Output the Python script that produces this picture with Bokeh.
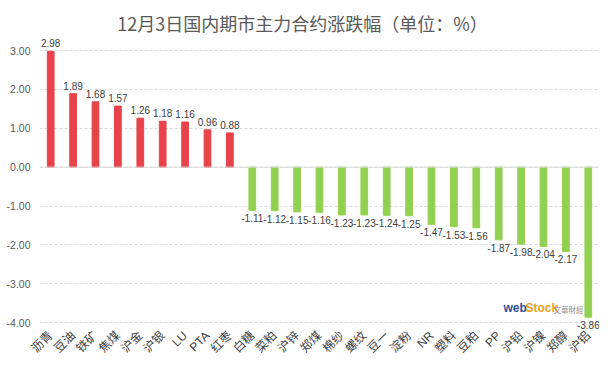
import math
from bokeh.plotting import figure
from bokeh.models import ColumnDataSource, FixedTicker, NumeralTickFormatter, Range1d, Span, Label
from bokeh.core.properties import value
from bokeh.embed import file_html
from bokeh.resources import INLINE

title_text = "12月3日国内期市主力合约涨跌幅（单位：%）"
categories = ["沥青", "豆油", "铁矿", "焦煤", "沪金", "沪银", "LU", "PTA", "红枣",
              "白糖", "菜粕", "沪锌", "郑煤", "棉纱", "螺纹", "豆一", "淀粉", "NR",
              "塑料", "豆粕", "PP", "沪铅", "沪镍", "郑醇", "沪铝"]
values = [2.98, 1.89, 1.68, 1.57, 1.26, 1.18, 1.16, 0.96, 0.88,
          -1.11, -1.12, -1.15, -1.16, -1.23, -1.23, -1.24, -1.25, -1.47,
          -1.53, -1.56, -1.87, -1.98, -2.04, -2.17, -3.86]
y_ticks = [-4, -3, -2, -1, 0, 1, 2, 3]

RED = "#E8434B"
GREEN = "#92D050"

colors = [RED if v >= 0 else GREEN for v in values]
labels = ["%.2f" % v for v in values]
src = ColumnDataSource(dict(cat=categories, val=values, color=colors, label=labels))
pos = ColumnDataSource(dict(cat=[c for c, v in zip(categories, values) if v >= 0],
                            val=[v for v in values if v >= 0],
                            label=[l for l, v in zip(labels, values) if v >= 0]))
neg = ColumnDataSource(dict(cat=[c for c, v in zip(categories, values) if v < 0],
                            val=[v for v in values if v < 0],
                            label=[l for l, v in zip(labels, values) if v < 0]))

p = figure(x_range=categories, y_range=Range1d(-4.28, 4.287), width=599, height=363,
           output_backend="svg", toolbar_location=None,
           min_border_left=39, min_border_right=0, min_border_top=0, min_border_bottom=30)

p.outline_line_color = None
p.background_fill_color = "white"
p.border_fill_color = "white"

p.xgrid.grid_line_color = None
p.ygrid.grid_line_color = "#d9d9d9"
p.ygrid.grid_line_dash = "3 2"
p.yaxis.ticker = FixedTicker(ticks=y_ticks)
p.yaxis.formatter = NumeralTickFormatter(format="0.00")
p.yaxis.axis_line_color = None
p.yaxis.major_tick_line_color = None
p.yaxis.minor_tick_line_color = None
p.yaxis.major_tick_out = 0
p.yaxis.major_tick_in = 0
p.yaxis.major_label_text_font = "Liberation Sans"
p.yaxis.major_label_text_font_size = "10.5px"
p.yaxis.major_label_text_color = "#595959"
p.yaxis.major_label_standoff = 9

p.xaxis.axis_line_color = None
p.xaxis.major_tick_line_color = None
p.xaxis.major_tick_out = 0
p.xaxis.major_tick_in = 0
p.xaxis.major_label_orientation = math.pi / 4
p.xaxis.major_label_text_font = "Liberation Sans, Noto Sans CJK SC"
p.xaxis.major_label_text_font_size = "12px"
p.xaxis.major_label_text_line_height = 1.0
p.xaxis.major_label_text_color = "#404040"
p.xaxis.major_label_standoff = 0

p.add_layout(Span(location=0, dimension="width", line_color="#d9d9d9", line_width=1))

p.vbar(x="cat", top="val", width=0.3, color="color", source=src)

p.text(x="cat", y="val", text="label", source=pos, text_align="center", text_baseline="bottom",
       y_offset=-4, text_font=value("Liberation Sans"), text_font_size="10px", text_color="#404040")
p.text(x="cat", y="val", text="label", source=neg, text_align="center", text_baseline="top",
       y_offset=4, text_font=value("Liberation Sans"), text_font_size="10px", text_color="#404040")

p.add_layout(Label(x=302, y=22, x_units="canvas", y_units="canvas", text=title_text,
                   text_align="center", text_baseline="middle",
                   text_font="Noto Sans CJK SC", text_font_size="18px",
                   text_color="#595959"))

p.add_layout(Label(x=503, y=307, x_units="canvas", y_units="canvas", text="web",
                   text_baseline="middle",
                   text_font="Liberation Sans", text_font_size="12px", text_font_style="bold",
                   text_color="#2B4F9E"))
p.add_layout(Label(x=525, y=307, x_units="canvas", y_units="canvas", text="Stock",
                   text_baseline="middle",
                   text_font="Liberation Sans", text_font_size="12px", text_font_style="bold",
                   text_color="#E9A21F"))
p.add_layout(Label(x=553, y=309, x_units="canvas", y_units="canvas", text="文華財經",
                   text_baseline="middle",
                   text_font="Noto Sans CJK TC", text_font_size="7.5px",
                   text_color="#909090"))

open("out.html", "w").write(file_html(p, INLINE))
